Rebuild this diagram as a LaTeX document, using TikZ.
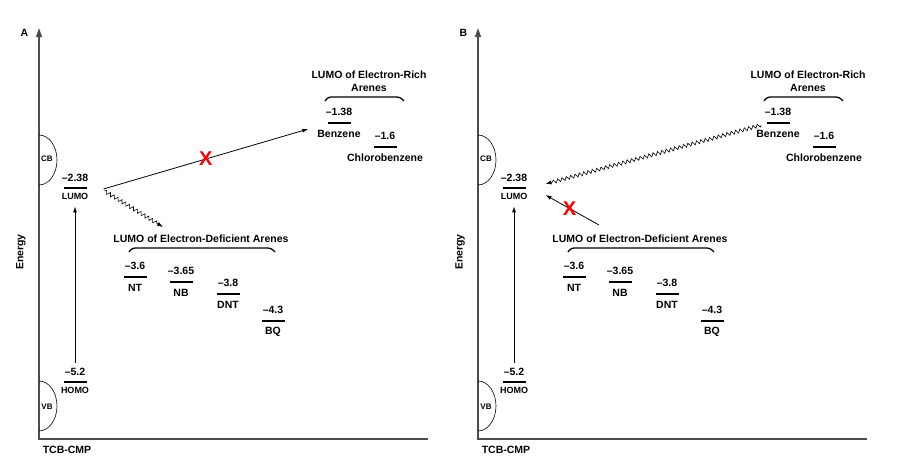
\documentclass[tikz,border=0pt]{standalone}
\usepackage{fontspec}
\setmainfont{Liberation Sans}
\usetikzlibrary{arrows.meta, positioning, decorations.pathmorphing}

\tikzset{
    txt/.style={font=\bfseries\fontsize{10.5}{13}\selectfont, inner sep=1pt},
    smalltxt/.style={font=\bfseries\fontsize{9}{11}\selectfont, inner sep=1pt},
    bandtxt/.style={font=\bfseries\fontsize{8}{10}\selectfont, inner sep=1pt},
    level/.style={fill=black, minimum width=23pt, minimum height=1.6pt, inner sep=0pt, outer sep=0pt},
    axis/.style={draw=black!70, line width=1.3pt, {Triangle[length=9pt,width=6pt]}-},
    brace/.style={line width=1.3pt, rounded corners=3pt},
    arr/.style={line width=0.8pt, -{Latex[length=6pt,width=4pt]}},
    wavy/.style={line width=0.6pt, -{Latex[length=6pt,width=4pt]}, decorate,
        decoration={snake, amplitude=1.8pt, segment length=4.5pt, post length=6pt}},
    cross/.style={font=\bfseries\fontsize{20}{20}\selectfont, text=red, inner sep=0pt}
}

\begin{document}
\begin{tikzpicture}[x=1pt, y=-1pt]
    \useasboundingbox (0,0) rectangle (900,474);
    \foreach \p/\dx in {A/0, B/439} {
        \begin{scope}[xshift=\dx]
            \draw[axis] (39,28) -- (39,439) -- (428,439);
            \node[txt] (\p-label) at (24.5,32.5) {\p};
            \node[txt] (\p-xlab) at (67,450) {TCB-CMP};
            \node[txt, rotate=90] (\p-ylab) at (21,252) {Energy};
            % bands
            \draw[line width=0.6pt] (39,135) arc[start angle=-90, end angle=90, x radius=18, y radius=25];
            \draw[line width=0.6pt] (39,381) arc[start angle=-90, end angle=90, x radius=18, y radius=25];
            \node[bandtxt] (\p-cb) at (47,159) {CB};
            \node[bandtxt] (\p-vb) at (47,407) {VB};
            % TCB-CMP levels
            \foreach \n/\x/\y/\v/\t in {lumo/75/188/–2.38/LUMO, homo/75/382/–5.2/HOMO} {
                \node[level] (\p-\n) at (\x,\y) {};
                \node[txt] (\p-\n-v) at (\x,\y-10) {\v};
                \node[smalltxt] (\p-\n-t) at (\x,\y+8) {\t};
            }
            \draw[arr, shorten <=4pt, shorten >=6pt] (\p-homo-v) -- (\p-lumo-t);
            % arene levels
            \foreach \n/\x/\y/\v/\t in {nt/135/277/–3.6/NT, nb/181/282/–3.65/NB,
                                       dnt/228/294/–3.8/DNT, bq/273/321/–4.3/BQ,
                                       bz/339/123/–1.38/Benzene, clb/385/147/–1.6/Chlorobenzene} {
                \node[level] (\p-\n) at (\x,\y) {};
                \node[txt] (\p-\n-v) at (\x,\y-11) {\v};
                \node[txt] (\p-\n-t) at (\x,\y+11) {\t};
            }
            \node[txt] (\p-ed) at (201,239) {LUMO of Electron-Deficient Arenes};
            \draw[brace] (129,252) -- (132,248) -- (271,248) -- (275,252);
            \node[txt, align=center] (\p-er) at (369,81.5) {LUMO of Electron-Rich\\Arenes};
            \draw[brace] (325,101) -- (328,97) -- (400,97) -- (404,101);
        \end{scope}
    }
    % A: transfer to electron-deficient arenes only
    \draw[arr] ([shift={(17,1)}]A-lumo.east) -- ([shift={(-8,-5)}]A-bz-t.west)
        node[cross, pos=0.5] (A-x) {X};
    \draw[wavy] ([shift={(18,3)}]A-lumo.east) -- ([shift={(-38,-12)}]A-ed.center);
    % B: transfer from electron-rich arenes
    \draw[wavy] ([shift={(6,-9)}]B-bz-t.west) -- ([shift={(20,-4)}]B-lumo.east);
    \draw[arr] ([shift={(-41,-14)}]B-ed.center) -- ([shift={(20,7)}]B-lumo.east)
        node[cross, pos=0.55] (B-x) {X};
\end{tikzpicture}
\end{document}
